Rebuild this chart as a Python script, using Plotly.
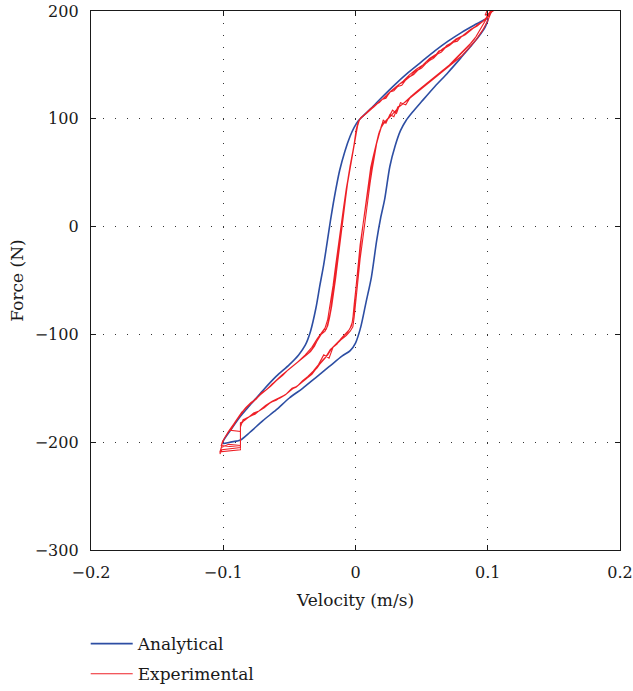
import plotly.graph_objects as go

# Analytical hysteresis loop: upper (unloading) branch, then lower (loading) branch
ana_v_upper = [0.1000, 0.0960, 0.0900, 0.0800, 0.0700, 0.0600, 0.0500, 0.0400, 0.0300,
               0.0200, 0.0120, 0.0060, 0.0020, -0.0010, -0.0040, -0.0080, -0.0120,
               -0.0160, -0.0190, -0.0215, -0.0240, -0.0270, -0.0300, -0.0340, -0.0380,
               -0.0430, -0.0500, -0.0600, -0.0700, -0.0800, -0.0870, -0.0940, -0.1000]
ana_f_upper = [193, 191, 187, 180, 172, 163, 153, 143, 132,
               120, 110, 103, 98, 92, 84, 70, 52,
               27, 5, -15, -35, -55, -76, -97, -110,
               -119, -128, -139, -152, -166, -176, -188, -199]

ana_v_lower = [-0.1000, -0.0950, -0.0900, -0.0870, -0.0800, -0.0700, -0.0600, -0.0500,
               -0.0400, -0.0300, -0.0200, -0.0100, -0.0040, 0.0000, 0.0040, 0.0080,
               0.0120, 0.0160, 0.0190, 0.0220, 0.0260, 0.0300, 0.0340, 0.0380, 0.0430,
               0.0500, 0.0600, 0.0700, 0.0800, 0.0870, 0.0930, 0.0980, 0.1000]
ana_f_lower = [-201, -200, -199, -198, -191, -180, -170, -159,
               -150, -140, -130, -120, -115, -108, -93, -70,
               -47, -13, 8, 25, 56, 75, 89, 98, 106,
               116, 130, 143, 157, 167, 176, 185, 193]

# Measured force-velocity record, three cycles
exp_v_top0 = [0.100, 0.103, 0.098, 0.102]
exp_f_top0 = [196, 201, 192, 199]

exp_v_dn1 = [0.101, 0.098, 0.095, 0.092, 0.089, 0.086, 0.083, 0.080, 0.077, 0.074,
             0.071, 0.068, 0.065, 0.062, 0.059, 0.056, 0.053, 0.050, 0.047, 0.044,
             0.041, 0.038, 0.035, 0.032, 0.029, 0.026, 0.023, 0.020, 0.017, 0.014,
             0.011, 0.008, 0.005, 0.003, 0.0015, 0.0005, -0.0005, -0.0015, -0.003, -0.0045,
             -0.006, -0.0075, -0.009, -0.0105, -0.012, -0.0135, -0.015, -0.0165, -0.018, -0.0195,
             -0.021, -0.023, -0.025, -0.027, -0.029, -0.031, -0.034, -0.037, -0.040, -0.044,
             -0.048, -0.052, -0.056, -0.060, -0.064, -0.068, -0.072, -0.076, -0.080, -0.084,
             -0.088, -0.092, -0.096, -0.099, -0.101]
exp_f_dn1 = [197, 192, 189, 186, 184, 181, 178, 176, 172, 171,
             168, 166, 162, 160, 156, 154, 151, 147, 145, 141,
             139, 136, 131, 130, 126, 125, 119, 118, 114, 111,
             108, 105, 102, 99, 93, 86, 79, 71, 62, 52,
             40, 26, 10, -4, -18, -33, -48, -62, -74, -84,
             -92, -97, -99, -101, -106, -111, -116, -119, -122, -126,
             -130, -134, -139, -143, -148, -152, -156, -161, -165, -170,
             -176, -183, -190, -196, -202]
exp_v_bot1 = [-0.1025, -0.1010, -0.095, -0.087, -0.087, -0.087]
exp_f_bot1 = [-211, -207, -206, -205, -195, -184]

exp_v_up1 = [-0.087, -0.084, -0.080, -0.076, -0.072, -0.068, -0.064, -0.060, -0.056, -0.052,
             -0.048, -0.044, -0.040, -0.036, -0.032, -0.028, -0.024, -0.020, -0.017, -0.014,
             -0.011, -0.008, -0.005, -0.003, -0.002, -0.001, 0.000, 0.001, 0.002, 0.003,
             0.0045, 0.006, 0.0075, 0.009, 0.010, 0.0115, 0.013, 0.0145, 0.016, 0.0175,
             0.019, 0.020, 0.022, 0.025, 0.028, 0.031, 0.034, 0.038, 0.042, 0.046,
             0.050, 0.054, 0.058, 0.062, 0.066, 0.070, 0.074, 0.078, 0.082, 0.086,
             0.090, 0.093, 0.096, 0.098, 0.100, 0.102]
exp_f_up1 = [-182, -180, -176, -174, -170, -167, -163, -161, -158, -155,
             -150, -148, -143, -139, -134, -128, -119, -122, -112, -109,
             -104, -100, -96, -92, -85, -72, -60, -48, -35, -22,
             -10, 5, 18, 31, 42, 55, 63, 71, 80, 86,
             91, 95, 97, 101, 108, 105, 115, 113, 121, 124,
             128, 133, 136, 141, 145, 148, 153, 158, 163, 168,
             174, 180, 186, 190, 195, 199]
exp_v_top1 = [0.104, 0.099, 0.103, 0.098, 0.101, 0.104, 0.100]
exp_f_top1 = [203, 193, 199, 196, 205, 200, 197]

exp_v_dn2 = [0.102, 0.099, 0.096, 0.093, 0.090, 0.087, 0.084, 0.081, 0.078, 0.075,
             0.072, 0.069, 0.066, 0.063, 0.060, 0.057, 0.054, 0.051, 0.048, 0.045,
             0.042, 0.039, 0.036, 0.033, 0.030, 0.027, 0.024, 0.021, 0.018, 0.015,
             0.012, 0.009, 0.006, 0.0035, 0.002, 0.001, 0.0, -0.001, -0.0025, -0.004,
             -0.0055, -0.007, -0.0085, -0.010, -0.0115, -0.013, -0.0145, -0.016, -0.0175, -0.019,
             -0.0205, -0.022, -0.024, -0.026, -0.028, -0.030, -0.033, -0.036, -0.039, -0.043,
             -0.047, -0.051, -0.055, -0.059, -0.063, -0.067, -0.071, -0.075, -0.079, -0.083,
             -0.087, -0.0905, -0.0945]
exp_f_dn2 = [199, 193, 190, 188, 185, 183, 179, 177, 175, 172,
             170, 168, 164, 163, 158, 156, 152, 150, 146, 144,
             140, 138, 134, 132, 128, 126, 121, 119, 115, 113,
             109, 106, 103, 100, 96, 90, 83, 75, 66, 57,
             46, 33, 19, 5, -9, -24, -39, -54, -68, -79,
             -88, -95, -96, -100, -103, -108, -114, -118, -121, -125,
             -129, -133, -138, -142, -146, -151, -154, -160, -163, -168,
             -174, -181, -189]
exp_v_bot2 = [-0.087, -0.087, -0.096, -0.1015, -0.1025, -0.094, -0.087, -0.087]
exp_f_bot2 = [-190, -203, -202, -205, -209, -208, -207, -186]

exp_v_up2 = [-0.085, -0.081, -0.077, -0.073, -0.069, -0.065, -0.061, -0.057, -0.053, -0.049,
             -0.045, -0.041, -0.037, -0.033, -0.029, -0.025, -0.021, -0.018, -0.015, -0.012,
             -0.009, -0.006, -0.004, -0.0025, -0.0015, -0.0005, 0.0005, 0.0015, 0.0025, 0.0035,
             0.005, 0.0065, 0.008, 0.0095, 0.011, 0.0125, 0.014, 0.0155, 0.017, 0.018,
             0.0195, 0.021, 0.023, 0.026, 0.029, 0.032, 0.035, 0.039, 0.043, 0.047,
             0.051, 0.055, 0.059, 0.063, 0.067, 0.071, 0.075, 0.079, 0.083, 0.087,
             0.091, 0.094, 0.097, 0.099, 0.101]
exp_f_up2 = [-179, -177, -173, -171, -168, -164, -161, -159, -156, -151,
             -149, -145, -141, -136, -131, -124, -119, -113, -109, -106,
             -102, -98, -94, -89, -80, -67, -54, -42, -30, -17,
             -4, 10, 24, 36, 47, 58, 66, 75, 83, 88,
             92, 99, 96, 104, 102, 111, 113, 118, 122, 126,
             130, 134, 138, 142, 146, 150, 155, 160, 165, 170,
             176, 182, 188, 192, 197]
exp_v_top2 = [0.103, 0.099, 0.102, 0.097, 0.101]
exp_f_top2 = [202, 194, 198, 191, 196]

exp_v_dn3 = [0.100, 0.096, 0.091, 0.086, 0.081, 0.076, 0.071, 0.066, 0.061, 0.056,
             0.051, 0.046, 0.041, 0.036, 0.031, 0.026, 0.021, 0.016, 0.011, 0.007,
             0.004, 0.002, 0.0005, -0.001, -0.003, -0.005, -0.007, -0.009, -0.011, -0.013,
             -0.015, -0.017, -0.019, -0.021, -0.023, -0.026, -0.029, -0.033, -0.038, -0.044,
             -0.050, -0.056, -0.062, -0.068, -0.074, -0.080, -0.086, -0.091, -0.096, -0.1005]
exp_f_dn3 = [195, 190, 186, 182, 177, 174, 169, 165, 160, 156,
             150, 146, 141, 135, 130, 125, 119, 114, 109, 104,
             101, 97, 90, 77, 64, 50, 35, 18, 1, -17,
             -36, -55, -72, -86, -94, -99, -104, -112, -119, -126,
             -132, -138, -145, -152, -158, -165, -172, -181, -190, -199]
exp_v_bot3 = [-0.1015, -0.095, -0.087, -0.087, -0.087]
exp_f_bot3 = [-203, -204, -203, -196, -184]

exp_v_up3 = [-0.083, -0.078, -0.073, -0.068, -0.063, -0.058, -0.053, -0.048, -0.043, -0.038,
             -0.033, -0.028, -0.023, -0.019, -0.015, -0.011, -0.007, -0.004, -0.002, -0.001,
             0.0, 0.001, 0.002, 0.0035, 0.005, 0.0065, 0.008, 0.0095, 0.011, 0.0125,
             0.014, 0.016, 0.018, 0.0195, 0.021, 0.024, 0.028, 0.033, 0.038, 0.044,
             0.050, 0.056, 0.062, 0.068, 0.074, 0.080, 0.086, 0.091, 0.096, 0.1]
exp_f_up3 = [-178, -175, -171, -166, -162, -159, -156, -151, -147, -142,
             -137, -129, -122, -114, -110, -105, -101, -97, -93, -84,
             -71, -58, -45, -30, -16, -1, 13, 27, 40, 52,
             64, 77, 86, 92, 95, 99, 105, 111, 116, 122,
             128, 134, 140, 146, 152, 158, 166, 173, 182, 191]
exp_v_top3 = [0.103, 0.099, 0.102]
exp_f_top3 = [200, 195, 198]

x_ticks = [-0.2, -0.1, 0, 0.1, 0.2]
x_tick_text = ["\u22120.2", "\u22120.1", "0", "0.1", "0.2"]
y_ticks = [-300, -200, -100, 0, 100, 200]
y_tick_text = ["\u2212300", "\u2212200", "\u2212100", "0", "100", "200"]

ana_v = ana_v_upper + ana_v_lower
ana_f = ana_f_upper + ana_f_lower

exp_v = (exp_v_top0 + exp_v_dn1 + exp_v_bot1 + exp_v_up1 + exp_v_top1
         + exp_v_dn2 + exp_v_bot2 + exp_v_up2 + exp_v_top2
         + exp_v_dn3 + exp_v_bot3 + exp_v_up3 + exp_v_top3)
exp_f = (exp_f_top0 + exp_f_dn1 + exp_f_bot1 + exp_f_up1 + exp_f_top1
         + exp_f_dn2 + exp_f_bot2 + exp_f_up2 + exp_f_top2
         + exp_f_dn3 + exp_f_bot3 + exp_f_up3 + exp_f_top3)

FONT = "DejaVu Serif, serif"
INK = "#1a1a1a"
BLUE = "#2d4ea3"
RED = "#ee2027"
TICK_SIZE = 16
TEXT_SIZE = 17

fig = go.Figure()
fig.add_trace(go.Scatter(
    x=ana_v, y=ana_f, mode="lines", name="Analytical", legendgroup="a",
    line=dict(color=BLUE, width=1.6, shape="spline", smoothing=0.8),
))
fig.add_trace(go.Scatter(
    x=exp_v, y=exp_f, mode="lines", name="Experimental", legendgroup="e",
    line=dict(color=RED, width=1.1),
))

axis_common = dict(
    showline=True, linecolor=INK, linewidth=1.3, mirror="ticks",
    ticks="inside", ticklen=5, tickcolor=INK, tickwidth=1,
    showgrid=True, gridcolor="#333333", gridwidth=1.3, griddash="1px,11px",
    zeroline=False, automargin=False,
    tickfont=dict(family=FONT, size=TICK_SIZE, color=INK),
)

fig.update_xaxes(
    range=[-0.2, 0.2], tickvals=x_ticks, ticktext=x_tick_text,
    ticklabelstandoff=8,
    title=dict(text="Velocity (m/s)", font=dict(family=FONT, size=TEXT_SIZE, color=INK), standoff=12),
    **axis_common,
)
fig.update_yaxes(
    range=[-300, 200], tickvals=y_ticks, ticktext=y_tick_text,
    ticklabelstandoff=8,
    title=dict(text="Force (N)", font=dict(family=FONT, size=TEXT_SIZE, color=INK), standoff=6),
    **axis_common,
)

# Legend sits in the bottom margin; its vertical position is given in page
# coordinates so it does not shrink the plotting area.
fig.update_layout(
    width=633, height=691,
    margin=dict(l=91, r=13, t=11, b=141),
    plot_bgcolor="white", paper_bgcolor="white",
    font=dict(family=FONT, size=TEXT_SIZE, color=INK),
    showlegend=True,
    legend=dict(
        xref="paper", yref="container",
        x=-0.01, y=0.094, xanchor="left", yanchor="top",
        bgcolor="rgba(0,0,0,0)", borderwidth=0,
        font=dict(family=FONT, size=TEXT_SIZE, color=INK),
        tracegroupgap=5, traceorder="grouped", itemwidth=42,
    ),
)

fig.write_html("out.html")
